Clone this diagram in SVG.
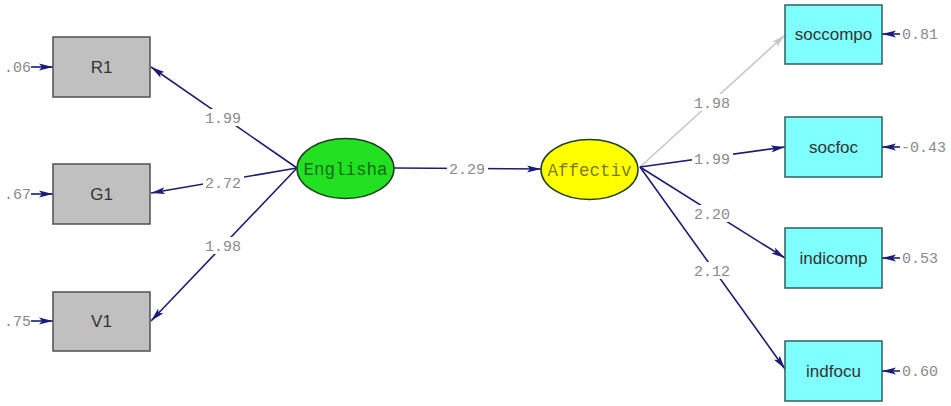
<svg xmlns="http://www.w3.org/2000/svg" width="951" height="406" viewBox="0 0 951 406">
<defs>
<style>
.obs{fill:#c0c0c0;stroke:#505050;stroke-width:1.5}
.obs2{fill:#80ffff;stroke:#2f5f5f;stroke-width:1.5}
.lat{stroke:#1f3f1f;stroke-width:1.5}
.ln{fill:none;stroke:#1c1c78;stroke-width:1.6;marker-end:url(#ah)}
.lg{fill:none;stroke:#c8c8c8;stroke-width:1.6;marker-end:url(#ahg)}
.num{font-family:"Liberation Mono","DejaVu Sans Mono",monospace;font-size:15px;fill:#8a8a8a}
.bt{font-family:"Liberation Sans",Arial,sans-serif;font-size:17px;fill:#333;text-anchor:middle}
.lt{font-family:"Liberation Mono","DejaVu Sans Mono",monospace;font-size:17.5px;fill:#000;fill-opacity:0.55;text-anchor:middle}
.bg{fill:#fff}
</style>
<marker id="ah" markerUnits="userSpaceOnUse" markerWidth="15" markerHeight="8" refX="14" refY="4" orient="auto"><path d="M0,0.5 L14,4 L0,7.5 L3,4 z" fill="#1c1c78"/></marker>
<marker id="ahg" markerUnits="userSpaceOnUse" markerWidth="15" markerHeight="8" refX="14" refY="4" orient="auto"><path d="M0,0.5 L14,4 L0,7.5 L3,4 z" fill="#c8c8c8"/></marker>
</defs>
<rect width="951" height="406" fill="#fff"/>
<g id="connectors">
<line class="ln" x1="297" y1="168" x2="151" y2="67"/>
<line class="ln" x1="297" y1="168" x2="151" y2="193"/>
<line class="ln" x1="297" y1="168" x2="151" y2="321"/>
<line class="ln" x1="394" y1="168" x2="541" y2="169"/>
<line class="lg" x1="640" y1="167" x2="785" y2="35"/>
<line class="ln" x1="640" y1="167" x2="785" y2="147"/>
<line class="ln" x1="640" y1="167" x2="785" y2="258"/>
<line class="ln" x1="640" y1="167" x2="785" y2="369"/>
<line class="ln" x1="31" y1="67" x2="53" y2="67"/>
<line class="ln" x1="31" y1="194" x2="53" y2="194"/>
<line class="ln" x1="31" y1="321" x2="53" y2="321"/>
<line class="ln" x1="900" y1="34" x2="882" y2="34"/>
<line class="ln" x1="900" y1="147" x2="882" y2="147"/>
<line class="ln" x1="900" y1="258" x2="882" y2="258"/>
<line class="ln" x1="900" y1="371" x2="882" y2="371"/>
<rect class="bg" x="203" y="109" width="41" height="17"/>
<text class="num" x="223" y="123" text-anchor="middle">1.99</text>
<rect class="bg" x="203" y="174" width="41" height="17"/>
<text class="num" x="223" y="188" text-anchor="middle">2.72</text>
<rect class="bg" x="203" y="237" width="41" height="17"/>
<text class="num" x="223" y="251" text-anchor="middle">1.98</text>
<rect class="bg" x="447" y="160" width="41" height="17"/>
<text class="num" x="467" y="174" text-anchor="middle">2.29</text>
<rect class="bg" x="692" y="94" width="41" height="17"/>
<text class="num" x="712" y="108" text-anchor="middle">1.98</text>
<rect class="bg" x="692" y="150" width="41" height="17"/>
<text class="num" x="712" y="164" text-anchor="middle">1.99</text>
<rect class="bg" x="692" y="205" width="41" height="17"/>
<text class="num" x="712" y="219" text-anchor="middle">2.20</text>
<rect class="bg" x="692" y="262" width="41" height="17"/>
<text class="num" x="712" y="276" text-anchor="middle">2.12</text>
<text class="num" x="31" y="72" text-anchor="end">.06</text>
<text class="num" x="31" y="199" text-anchor="end">.67</text>
<text class="num" x="31" y="326" text-anchor="end">.75</text>
<text class="num" x="902" y="39">0.81</text>
<text class="num" x="901" y="152">-0.43</text>
<text class="num" x="902" y="263">0.53</text>
<text class="num" x="902" y="376">0.60</text>
</g>
<g id="R1"><rect class="obs" x="53" y="37" width="97" height="60"/><text class="bt" x="101.5" y="73">R1</text></g>
<g id="G1"><rect class="obs" x="53" y="164" width="97" height="60"/><text class="bt" x="101.5" y="200">G1</text></g>
<g id="V1"><rect class="obs" x="53" y="292" width="97" height="59"/><text class="bt" x="101.5" y="327">V1</text></g>
<g id="Englisha"><ellipse class="lat" cx="345.5" cy="168.5" rx="48.5" ry="30" fill="#22e022"/><text class="lt" x="345.5" y="174.5">Englisha</text></g>
<g id="Affectiv"><ellipse class="lat" cx="589.5" cy="169.5" rx="48.5" ry="30" fill="#ffff00"/><text class="lt" x="589.5" y="175.5">Affectiv</text></g>
<g id="soccompo"><rect class="obs2" x="785" y="5" width="97" height="59"/><text class="bt" x="833.5" y="40">soccompo</text></g>
<g id="socfoc"><rect class="obs2" x="785" y="117" width="97" height="60"/><text class="bt" x="833.5" y="153">socfoc</text></g>
<g id="indicomp"><rect class="obs2" x="785" y="228" width="97" height="60"/><text class="bt" x="833.5" y="264">indicomp</text></g>
<g id="indfocu"><rect class="obs2" x="785" y="341" width="97" height="60"/><text class="bt" x="833.5" y="377">indfocu</text></g>
</svg>
